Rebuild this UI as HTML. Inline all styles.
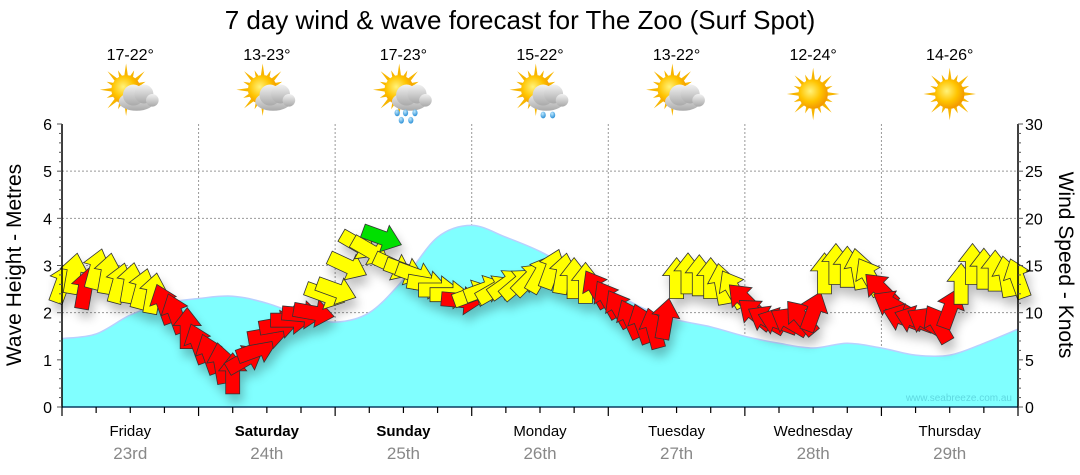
<!DOCTYPE html>
<html><head><meta charset="utf-8">
<style>
html,body{margin:0;padding:0;background:#fff;}
svg{display:block;font-family:"Liberation Sans",sans-serif;}
</style></head>
<body>
<svg id="chart" width="1080" height="475" viewBox="0 0 1080 475">
<defs>
<radialGradient id="sunG" cx="40%" cy="40%" r="60%"><stop offset="0" stop-color="#fff27a"/><stop offset="0.6" stop-color="#ffc400"/><stop offset="1" stop-color="#f39a00"/></radialGradient>
<linearGradient id="cloudG" x1="0" y1="0" x2="0" y2="1"><stop offset="0" stop-color="#f2f2f2"/><stop offset="1" stop-color="#a9a9a9"/></linearGradient>
<radialGradient id="dropG" cx="40%" cy="30%" r="70%"><stop offset="0" stop-color="#bfe9ff"/><stop offset="1" stop-color="#2a8fd6"/></radialGradient>
<filter id="shadow" x="-30%" y="-30%" width="160%" height="160%"><feGaussianBlur in="SourceAlpha" stdDeviation="5"/><feOffset dx="3" dy="8"/><feComponentTransfer><feFuncA type="linear" slope="0.25"/></feComponentTransfer><feMerge><feMergeNode/><feMergeNode in="SourceGraphic"/></feMerge></filter>
</defs>
<text x="520" y="29" font-size="26" text-anchor="middle" fill="#000">7 day wind &amp; wave forecast for The Zoo (Surf Spot)</text>
<g id="icons"></g>
<g id="grid"></g>
<g id="wave"></g>
<text x="1012" y="401" font-size="10" text-anchor="end" fill="#5fd8e0">www.seabreeze.com.au</text>
<g id="wind" filter="url(#shadow)"></g>
<g id="axes"></g>
<text transform="translate(21,265) rotate(-90)" font-size="21" text-anchor="middle">Wave Height - Metres</text>
<text transform="translate(1059,265) rotate(90)" font-size="21" text-anchor="middle">Wind Speed - Knots</text>
</svg>
<script>
const days = ["Friday","Saturday","Sunday","Monday","Tuesday","Wednesday","Thursday"];
const dates = ["23rd","24th","25th","26th","27th","28th","29th"];
const boldDays = [false,true,true,false,false,false,false];
const temps = ["17-22°","13-23°","17-23°","15-22°","13-22°","12-24°","14-26°"];
const weather = ["cloud","cloud","rain","shower","cloud","sun","sun"];
const waveTicks = [0,1,2,3,4,5,6];
const windTicks = [0,5,10,15,20,25,30];
// wave height (m), every 6 hours
const waveHeight = [1.45,1.55,1.95,2.2,2.3,2.35,2.2,1.95,1.8,2.0,2.7,3.6,3.85,3.6,3.3,2.9,2.5,2.1,1.85,1.7,1.5,1.35,1.25,1.35,1.25,1.1,1.1,1.35,1.65];
// wind, every 2 hours
const windSpeed = [13,14,12.4,14.5,14,13,13,12.4,11.9,10.8,9.8,8.2,
 6.6,5.5,4.5,3.4,5,6,7.6,8.7,9.2,9.8,10,11.9,
 12.4,15,17.2,16.6,18,15,14.5,14,13,12.4,11.9,11.3,
 11.9,12.4,12.4,13,13,13.5,14,14.5,14,13.5,13,12.4,
 11.3,10.3,9.2,8.7,8.2,9.2,13.5,14,13.8,13.5,12.9,12.4,
 11.3,9.8,9.2,9,9,9.4,10,14,15,14.7,14.5,13.7,
 12.4,10.8,9.4,9.2,9,8.7,10.3,12.9,15,14.5,14.3,13.7,13.5];
const windDir = [20,10,10,15,10,15,10,15,10,-20,-20,0,
 -20,-20,-10,0,60,70,80,80,90,95,100,110,
 110,115,120,120,110,115,110,110,100,90,90,95,
 70,70,60,55,50,45,30,20,10,0,0,-30,
 -30,-30,-25,-20,-15,10,0,0,0,0,-10,-30,
 -45,-50,-60,-70,-60,-40,20,0,0,0,-10,-30,
 -45,-60,-70,-70,-60,-30,20,0,0,0,0,-10,-20];
const windColor = ["Y","Y","R","Y","Y","Y","Y","Y","Y","R","R","R",
 "R","R","R","R","R","R","R","R","R","R","R","Y",
 "Y","Y","Y","Y","G","Y","Y","Y","Y","Y","Y","R",
 "Y","Y","Y","Y","Y","Y","Y","Y","Y","Y","Y","R",
 "R","R","R","R","R","R","Y","Y","Y","Y","Y","Y",
 "R","R","R","R","R","R","R","Y","Y","Y","Y","Y",
 "R","R","R","R","R","R","R","Y","Y","Y","Y","Y","Y"];

const NS="http://www.w3.org/2000/svg";
const X0=62,X1=1018,Y0=407,Y1=124;
const dayW=(X1-X0)/7;
const xH = h => X0 + h/168*(X1-X0);
const yM = m => Y0 - m/6*(Y0-Y1);
const yK = k => Y0 - k/30*(Y0-Y1);
function mk(tag,attrs,parent){const e=document.createElementNS(NS,tag);for(const k in attrs)e.setAttribute(k,attrs[k]);parent.appendChild(e);return e;}
const grid=document.getElementById('grid'),axes=document.getElementById('axes'),wave=document.getElementById('wave'),wind=document.getElementById('wind'),icons=document.getElementById('icons');

for(let i=1;i<6;i++){const l=mk('line',{x1:X0,x2:X1,y1:yM(i),y2:yM(i),stroke:'#999','stroke-dasharray':'2,2','stroke-width':1},grid);

}
for(let d=1;d<7;d++){const l=mk('line',{x1:X0+d*dayW,x2:X0+d*dayW,y1:Y1,y2:Y0,stroke:'#999','stroke-dasharray':'2,2','stroke-width':1},grid);

}

// smooth wave path (Catmull-Rom)
const wp=waveHeight.map((v,i)=>[xH(i*6),yM(v)]);
function smooth(p){let d='M'+p[0][0].toFixed(1)+','+p[0][1].toFixed(1);
 for(let i=0;i<p.length-1;i++){const a=p[Math.max(0,i-1)],b=p[i],c=p[i+1],e=p[Math.min(p.length-1,i+2)];
  const c1=[b[0]+(c[0]-a[0])/6,b[1]+(c[1]-a[1])/6],c2=[c[0]-(e[0]-b[0])/6,c[1]-(e[1]-b[1])/6];
  d+=`C${c1[0].toFixed(1)},${c1[1].toFixed(1)} ${c2[0].toFixed(1)},${c2[1].toFixed(1)} ${c[0].toFixed(1)},${c[1].toFixed(1)}`;}
 return d;}
const sp=smooth(wp);
const wa=mk('path',{d:`M${X0},${Y0} L`+sp.slice(1)+` L${X1},${Y0} Z`,fill:'#80ffff',stroke:'none'},wave);


const wl=mk('path',{d:sp,fill:'none',stroke:'#b8d0ff','stroke-width':1.5},wave);



const colors={Y:'#ffff00',R:'#ff0000',G:'#00e000'};
const arrowD='M0,-22 L14,-4 L7,-4 L7,19 L-7,19 L-7,-4 L-14,-4 Z';
windSpeed.forEach((s,i)=>{
  const a=mk('path',{d:arrowD,fill:colors[windColor[i]],stroke:'#333','stroke-width':0.8,
    transform:`translate(${xH(i*2).toFixed(1)},${yK(s).toFixed(1)}) rotate(${windDir[i]})`},wind);
  
  
});

mk('line',{x1:X0,x2:X1,y1:Y0,y2:Y0,stroke:'#0a3d62','stroke-width':1.5},axes);
mk('line',{x1:X0,x2:X0,y1:Y1,y2:Y0,stroke:'#000','stroke-width':1.5},axes);
mk('line',{x1:X1,x2:X1,y1:Y1,y2:Y0,stroke:'#000','stroke-width':1.5},axes);
for(let m=0;m<=6.001;m+=0.2){const big=Math.abs(m-Math.round(m))<0.01;mk('line',{x1:X0-(big?5:3),x2:X0,y1:yM(m),y2:yM(m),stroke:'#555','stroke-width':1},axes);}
for(let k=0;k<=30;k++){const big=k%5==0;mk('line',{x1:X1,x2:X1+(big?5:3),y1:yK(k),y2:yK(k),stroke:'#555','stroke-width':1},axes);}
waveTicks.forEach(t=>{const e=mk('text',{x:X0-10,y:yM(t)+6,'font-size':16,'text-anchor':'end'},axes);e.textContent=t;

});
windTicks.forEach(t=>{const e=mk('text',{x:X1+7,y:yK(t)+6,'font-size':16},axes);e.textContent=t;

});
for(let h=0;h<=168;h+=6){const big=h%24==0;mk('line',{x1:xH(h),x2:xH(h),y1:Y0,y2:Y0+(big?9:6),stroke:'#000','stroke-width':1.2},axes);}
days.forEach((d,i)=>{const cx=X0+(i+0.5)*dayW;
 const t=mk('text',{x:cx,y:436,'font-size':15,'text-anchor':'middle','font-weight':boldDays[i]?'bold':'normal'},axes);t.textContent=d;
 
 
 const t2=mk('text',{x:cx,y:459,'font-size':17,'text-anchor':'middle',fill:'#888'},axes);t2.textContent=dates[i];
 
 
 const t3=mk('text',{x:cx,y:60,'font-size':16,'text-anchor':'middle'},icons);t3.textContent=temps[i];
 
 
 const g=mk('g',{transform:`translate(${cx},94) scale(1.05)`},icons);
 
 
 const cloud=weather[i]!='sun';
 const sx=cloud?-4:0, sy=cloud?-4:0;
 let rp='';for(let r=0;r<32;r++){const ang=r/32*Math.PI*2;const R=r%2==0?(r%4==0?25:20):11;rp+=(r?'L':'M')+(sx+R*Math.cos(ang)).toFixed(1)+','+(sy+R*Math.sin(ang)).toFixed(1);}
 mk('path',{d:rp+'Z',fill:'#f7b500'},g);
 mk('circle',{cx:sx,cy:sy,r:14,fill:'url(#sunG)'},g);
 if(cloud){
   const cg=mk('g',{fill:'url(#cloudG)'},g);
   mk('ellipse',{cx:6,cy:7,rx:17,ry:9},cg);mk('circle',{cx:3,cy:1,r:10},cg);mk('circle',{cx:13,cy:0,r:9},cg);mk('circle',{cx:21,cy:6,r:6},cg);
   if(weather[i]=='rain'||weather[i]=='shower'){
     const dr=weather[i]=='rain'?[[-6,18],[2,18],[11,18],[-2,25],[7,25]]:[[3,20],[12,20]];
     dr.forEach(p=>mk('ellipse',{cx:p[0],cy:p[1],rx:2.5,ry:3.2,fill:'url(#dropG)'},g));
   }
 }
});
</script>
</body></html>
